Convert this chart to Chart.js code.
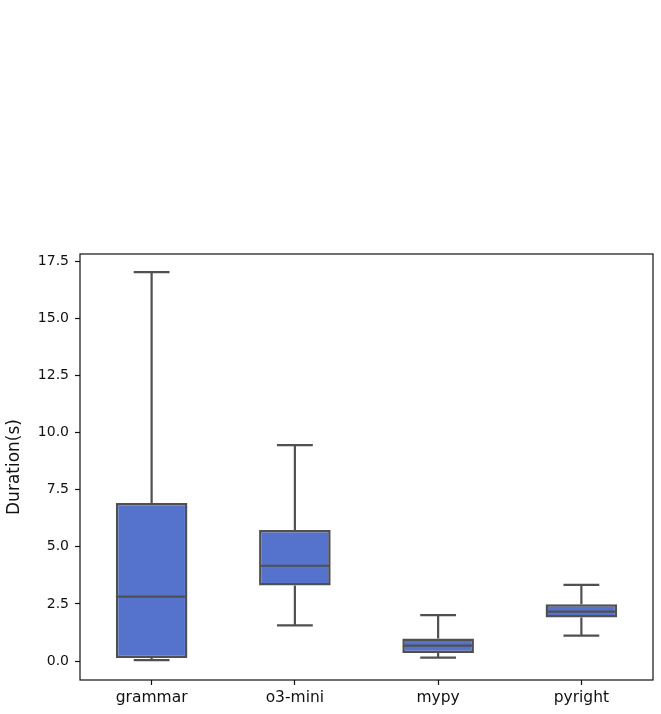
<!DOCTYPE html>
<html lang="en">
<head>
  <meta charset="UTF-8">
  <title>Duration box plot</title>
  <script src="https://cdn.jsdelivr.net/npm/chart.js"></script>
  <style>
    html, body {
      margin: 0;
      padding: 0;
      background: #fff;
    }
    #wrap {
      width: 661px;
      height: 714px;
    }
  </style>
</head>
<body>
  <div id="wrap">
    <canvas id="boxChart" width="661" height="714"></canvas>
  </div>

  <script>
    const categories = ['grammar', 'o3-mini', 'mypy', 'pyright'];
    const whiskerLow = [0.04, 1.56, 0.15, 1.11];
    const q1 = [0.13, 3.31, 0.35, 1.91];
    const median = [2.82, 4.17, 0.67, 2.16];
    const q3 = [6.91, 5.73, 0.99, 2.48];
    const whiskerHigh = [17.02, 9.45, 2.01, 3.33];
    const yTicks = [0, 2.5, 5, 7.5, 10, 12.5, 15, 17.5];

    const lineGray = '#505050';

    // whiskers, caps and median line, positioned by the chart scales
    const boxParts = {
      id: 'boxParts',
      afterDatasetsDraw(chart) {
        const x = chart.scales.x;
        const y = chart.scales.y;
        const ctx = chart.ctx;
        const bar = chart.getDatasetMeta(0).data;
        ctx.save();
        ctx.strokeStyle = lineGray;
        ctx.lineWidth = 2.2;
        categories.forEach((c, i) => {
          const cx = x.getPixelForValue(i);
          const half = bar[i].width / 2;
          const cap = half / 2;
          ctx.beginPath();
          ctx.moveTo(cx, y.getPixelForValue(q3[i]));
          ctx.lineTo(cx, y.getPixelForValue(whiskerHigh[i]));
          ctx.moveTo(cx, y.getPixelForValue(q1[i]));
          ctx.lineTo(cx, y.getPixelForValue(whiskerLow[i]));
          ctx.moveTo(cx - cap, y.getPixelForValue(whiskerHigh[i]));
          ctx.lineTo(cx + cap, y.getPixelForValue(whiskerHigh[i]));
          ctx.moveTo(cx - cap, y.getPixelForValue(whiskerLow[i]));
          ctx.lineTo(cx + cap, y.getPixelForValue(whiskerLow[i]));
          ctx.moveTo(cx - half + 1, y.getPixelForValue(median[i]));
          ctx.lineTo(cx + half - 1, y.getPixelForValue(median[i]));
          ctx.stroke();
        });
        // frame round the plot area
        const a = chart.chartArea;
        ctx.strokeStyle = '#111';
        ctx.lineWidth = 1.2;
        ctx.strokeRect(a.left, a.top, a.right - a.left, a.bottom - a.top);
        ctx.restore();
      }
    };

    const ctx = document.getElementById('boxChart').getContext('2d');
    new Chart(ctx, {
      type: 'bar',
      data: {
        labels: categories,
        datasets: [{
          data: categories.map((c, i) => [q1[i], q3[i]]),
          backgroundColor: '#5573CD',
          borderColor: lineGray,
          borderWidth: 2.5,
          borderSkipped: false,
          barPercentage: 0.5,
          categoryPercentage: 1.0
        }]
      },
      options: {
        responsive: false,
        animation: false,
        layout: {
          padding: { top: 254, right: 8, left: 0, bottom: 0 }
        },
        plugins: {
          legend: { display: false },
          tooltip: { enabled: false }
        },
        scales: {
          x: {
            grid: {
              display: true,
              offset: false,
              drawOnChartArea: false,
              tickLength: 5,
              tickColor: '#111',
              tickWidth: 1.2
            },
            border: { display: false },
            ticks: {
              color: '#111',
              padding: 4,
              font: { family: 'DejaVu Sans', size: 15.5 }
            },
            afterFit(s) { s.height = 34; }
          },
          y: {
            min: -0.83,
            max: 17.81,
            afterBuildTicks(s) {
              s.ticks = yTicks.map(v => ({ value: v }));
            },
            grid: {
              display: true,
              drawOnChartArea: false,
              tickLength: 5,
              tickColor: '#111',
              tickWidth: 1.2
            },
            border: { display: false },
            ticks: {
              color: '#111',
              padding: 6,
              font: { family: 'DejaVu Sans', size: 14 },
              callback: v => Number(v).toFixed(1)
            },
            title: {
              display: true,
              text: 'Duration(s)',
              color: '#111',
              font: { family: 'DejaVu Sans', size: 17 },
              padding: { top: 4, bottom: 4 }
            },
            afterFit(s) { s.width = 80; }
          }
        }
      },
      plugins: [boxParts]
    });
  </script>
</body>
</html>
